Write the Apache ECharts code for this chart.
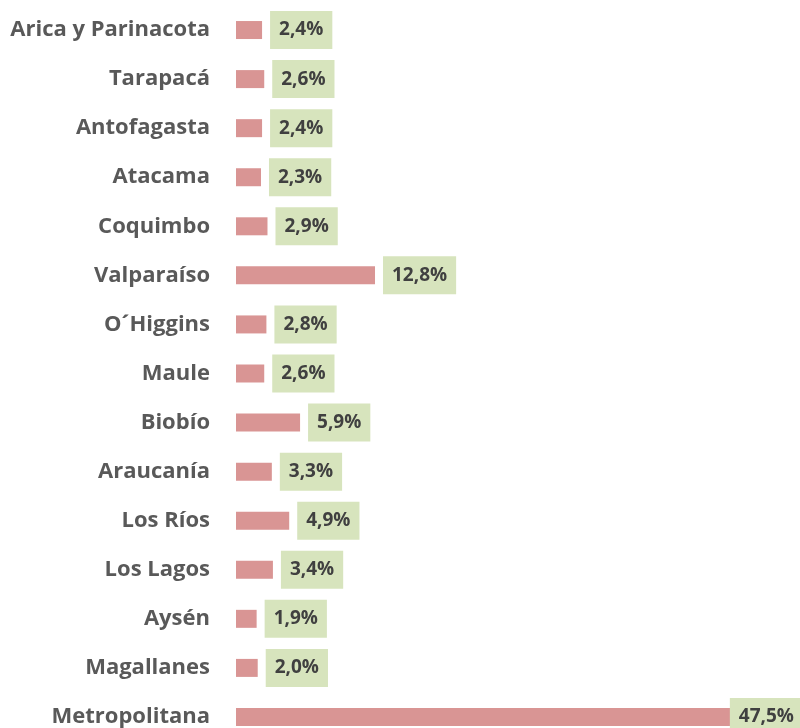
<!DOCTYPE html>
<html><head><meta charset="utf-8">
<script src="https://cdn.jsdelivr.net/npm/echarts@6/dist/echarts.min.js"></script>
<style>html,body{margin:0;padding:0;background:#fff}#c{width:800px;height:728px}</style>
</head><body><div id="c"></div>
<script>
const categories = ["Arica y Parinacota","Tarapacá","Antofagasta","Atacama","Coquimbo","Valparaíso","O´Higgins","Maule","Biobío","Araucanía","Los Ríos","Los Lagos","Aysén","Magallanes","Metropolitana"];
const values = [2.4,2.6,2.4,2.3,2.9,12.8,2.8,2.6,5.9,3.3,4.9,3.4,1.9,2.0,47.5];

const chart = echarts.init(document.getElementById('c'));
const data = values.map((v,i)=>{
  const d = {value:v};
  if (i === values.length-1) d.label = {offset:[-30,0]};
  return d;
});
chart.setOption({
  animation:false,
  grid:{left:236, top:5.5, height:736, right:21, containLabel:false, outerBoundsMode:'none'},
  xAxis:{type:'value', min:0, max:50, show:false},
  yAxis:{type:'category', data:categories, inverse:true,
    axisLine:{show:false}, axisTick:{show:false},
    axisLabel:{margin:26, color:'#595959', fontFamily:'Open Sans', fontWeight:'bold', fontSize:22}},
  series:[{type:'bar', data:data, barWidth:18,
    itemStyle:{color:'#d99594'},
    label:{show:true, position:'right', distance:8,
      formatter:p=>p.value.toFixed(1).replace('.',',')+'%',
      color:'#404040', fontFamily:'Open Sans', fontWeight:'bold', fontSize:19, lineHeight:18,
      backgroundColor:'#d7e4bd', padding:[10,9,10,9]}}]
});
</script></body></html>
